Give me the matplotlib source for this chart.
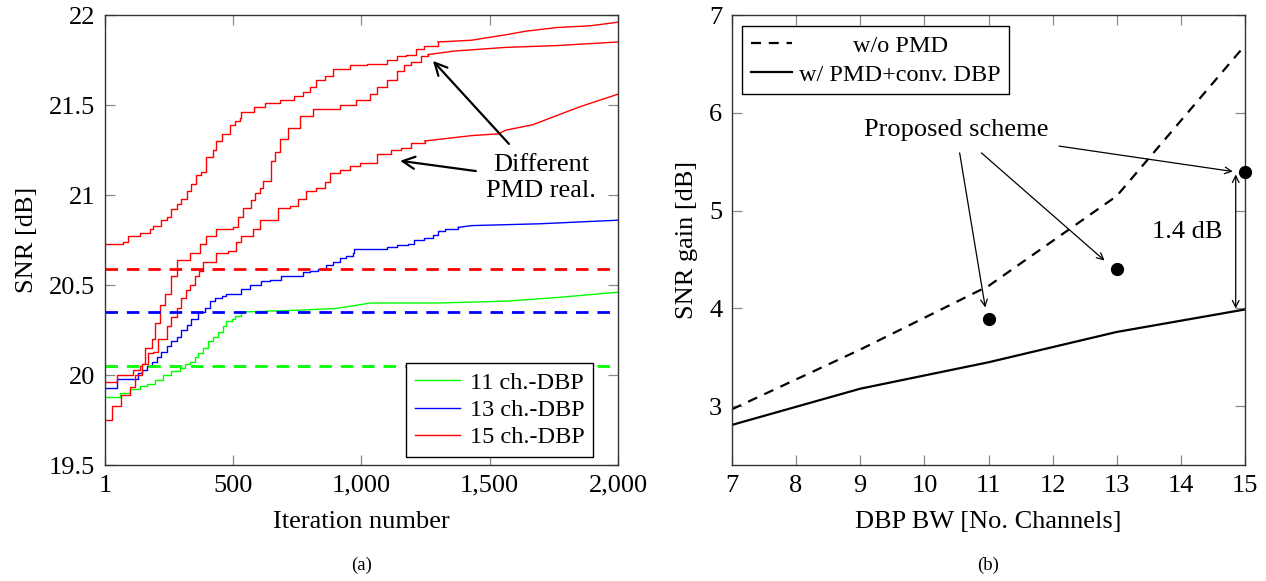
import numpy as np
import matplotlib
matplotlib.use('Agg')
import matplotlib.pyplot as plt

plt.rcParams['font.family'] = ['Liberation Serif', 'DejaVu Serif']

# ---- (a) SNR vs iteration ----
r1_it = [1, 72, 92, 137, 176, 189, 221, 241, 260, 280, 299, 319, 338, 357, 377, 396, 422, 435, 455, 487,
         507, 526, 532, 580, 623, 682, 739, 771, 798, 824, 857, 890, 956, 1022, 1101, 1140, 1173, 1213, 1245,
         1298, 1430, 1562, 1641, 1759, 1891, 2000]
r1_snr = [20.73, 20.74, 20.77, 20.79, 20.81, 20.83, 20.86, 20.88, 20.92, 20.95, 20.98, 21.02, 21.06, 21.11,
          21.13, 21.21, 21.25, 21.30, 21.34, 21.39, 21.41, 21.43, 21.46, 21.49, 21.51, 21.53, 21.55, 21.57,
          21.60, 21.64, 21.66, 21.70, 21.72, 21.73, 21.75, 21.77, 21.78, 21.81, 21.83, 21.85, 21.86, 21.89,
          21.91, 21.93, 21.94, 21.96]

r2_it = [1, 27, 62, 98, 118, 144, 157, 183, 195, 215, 234, 260, 282, 331, 370, 396, 435, 500, 520, 539, 571,
         584, 604, 617, 649, 662, 682, 714, 759, 811, 915, 980, 1035, 1061, 1101, 1140, 1166, 1193, 1232, 1259,
         1364, 1562, 1759, 2000]
r2_snr = [19.75, 19.83, 19.89, 19.935, 20.0, 20.06, 20.15, 20.20, 20.29, 20.39, 20.45, 20.55, 20.64, 20.68,
          20.73, 20.77, 20.81, 20.82, 20.88, 20.93, 20.97, 21.01, 21.04, 21.08, 21.19, 21.24, 21.31, 21.37,
          21.44, 21.48, 21.50, 21.53, 21.56, 21.60, 21.64, 21.69, 21.72, 21.74, 21.77, 21.78, 21.80, 21.82,
          21.83, 21.85]

r3_it = [1, 46, 111, 137, 144, 170, 189, 208, 241, 260, 280, 299, 316, 331, 351, 368, 383, 435, 481, 513,
         532, 578, 604, 675, 720, 753, 785, 824, 857, 876, 915, 954, 993, 1061, 1114, 1153, 1193, 1246, 1430,
         1535, 1562, 1667, 1759, 1851, 1957, 2000]
r3_snr = [19.96, 20.0, 20.03, 20.05, 20.06, 20.12, 20.13, 20.20, 20.27, 20.32, 20.37, 20.43, 20.47, 20.50,
          20.55, 20.58, 20.63, 20.68, 20.69, 20.74, 20.77, 20.81, 20.86, 20.93, 20.94, 20.98, 21.02, 21.04,
          21.07, 21.12, 21.14, 21.16, 21.18, 21.23, 21.25, 21.26, 21.29, 21.30, 21.33, 21.34, 21.36, 21.39,
          21.44, 21.49, 21.54, 21.56]

b_it = [1, 46, 131, 144, 163, 183, 202, 221, 241, 260, 280, 299, 319, 338, 364, 390, 409, 429, 455, 474,
        532, 565, 610, 643, 688, 772, 798, 831, 863, 889, 915, 941, 967, 973, 1101, 1140, 1180, 1206, 1245,
        1278, 1298, 1325, 1377, 1430, 1693, 2000]
b_snr = [19.93, 19.98, 20.01, 20.03, 20.05, 20.07, 20.10, 20.13, 20.16, 20.19, 20.21, 20.25, 20.28, 20.31,
         20.35, 20.37, 20.41, 20.43, 20.44, 20.45, 20.48, 20.50, 20.52, 20.53, 20.55, 20.57, 20.58, 20.59,
         20.61, 20.63, 20.65, 20.66, 20.68, 20.70, 20.71, 20.72, 20.73, 20.75, 20.76, 20.78, 20.80, 20.81,
         20.82, 20.83, 20.84, 20.86]

g_it = [1, 59, 98, 137, 163, 195, 228, 260, 293, 312, 331, 351, 364, 383, 403, 422, 442, 461, 474, 494, 507,
        532, 759, 903, 993, 1035, 1298, 1562, 1759, 2000]
g_snr = [19.88, 19.90, 19.92, 19.94, 19.95, 19.97, 20.0, 20.02, 20.04, 20.06, 20.07, 20.10, 20.12, 20.15,
         20.19, 20.21, 20.24, 20.27, 20.30, 20.31, 20.33, 20.35, 20.36, 20.37, 20.39, 20.40, 20.40, 20.41,
         20.43, 20.46]

ref_red = 20.59
ref_blue = 20.35
ref_green = 20.05

# ---- (b) SNR gain vs DBP bandwidth ----
bw = [7, 9, 11, 13, 15]
gain_nopmd = [2.97, 3.58, 4.23, 5.15, 6.69]
gain_pmd = [2.81, 3.18, 3.45, 3.76, 3.99]
prop_bw = [11, 13, 15]
prop_gain = [3.89, 4.40, 5.40]

FS = 19
W, H = 1266, 581
fig = plt.figure(figsize=(W / 100, H / 100), dpi=100)
ax1 = fig.add_axes([105 / W, 1 - 465 / H, 513 / W, 450 / H])
ax2 = fig.add_axes([732 / W, 1 - 465 / H, 513 / W, 450 / H])

for ax in (ax1, ax2):
    ax.tick_params(direction='in', top=True, right=True, length=7, width=0.9, color='#888888',
                   labelsize=FS, pad=7)
    for s in ax.spines.values():
        s.set_linewidth(1.0)
        s.set_color('#333333')


def staircase(ax, it, snr, tail, **kw):
    # staircase up to `tail`, the fine-stepped rest drawn straight
    k = it.index(tail)
    ax.plot(it[:k + 1], snr[:k + 1], drawstyle='steps-post', **kw)
    kw.pop('label', None)
    ax.plot(it[k:], snr[k:], **kw)


# (a)
lw = 1.0
staircase(ax1, g_it, g_snr, 532, color='#00ff00', lw=lw, label='11 ch.-DBP')
staircase(ax1, b_it, b_snr, 1377, color='#0000ff', lw=lw, label='13 ch.-DBP')
staircase(ax1, r1_it, r1_snr, 1298, color='#ff0000', lw=lw, label='15 ch.-DBP')
staircase(ax1, r2_it, r2_snr, 1259, color='#ff0000', lw=lw)
staircase(ax1, r3_it, r3_snr, 1246, color='#ff0000', lw=lw)
for v, c in ((ref_red, '#ff0000'), (ref_blue, '#0000ff'), (ref_green, '#00ff00')):
    ax1.axhline(v, color=c, lw=2.0, dashes=(4.5, 3.2))

ax1.set_xlim(1, 2000)
ax1.set_ylim(19.5, 22)
ax1.set_xticks([1, 500, 1000, 1500, 2000])
ax1.set_xticklabels(['1', '500', '1,000', '1,500', '2,000'])
ax1.set_yticks([19.5, 20, 20.5, 21, 21.5, 22])
ax1.set_yticklabels(['19.5', '20', '20.5', '21', '21.5', '22'])
ax1.set_xlabel('Iteration number', fontsize=FS, labelpad=10)
ax1.set_ylabel('SNR [dB]', fontsize=FS, labelpad=8)

leg1 = ax1.legend(loc='lower right', bbox_to_anchor=(0.951, 0.018), borderaxespad=0, fontsize=17.5,
                  fancybox=False, framealpha=1, edgecolor='black', handlelength=1.85, handletextpad=0.4,
                  labelspacing=0.22, borderpad=0.35)
leg1.get_frame().set_linewidth(1.0)

ax1.text(1700, 21.095, 'Different\nPMD real.', ha='center', va='center', fontsize=FS, linespacing=1.2)
aprops = dict(arrowstyle='->', lw=1.6, color='black', shrinkA=0, shrinkB=0, mutation_scale=22)
ax1.annotate('', xy=(1279, 21.745), xytext=(1575, 21.284), arrowprops=aprops)
ax1.annotate('', xy=(1151, 21.19), xytext=(1446, 21.133), arrowprops=aprops)

# (b)
ax2.plot(bw, gain_nopmd, color='black', lw=1.6, dashes=(4.5, 3.5), label='w/o PMD')
ax2.plot(bw, gain_pmd, color='black', lw=1.6, label='w/ PMD+conv. DBP')
ax2.plot(prop_bw, prop_gain, 'o', color='black', ms=8.5, clip_on=False, zorder=5)
ax2.set_xlim(7, 15)
ax2.set_ylim(2.4, 7)
ax2.set_xticks(range(7, 16))
ax2.set_yticks([3, 4, 5, 6, 7])
ax2.set_xlabel('DBP BW [No. Channels]', fontsize=FS, labelpad=10)
ax2.set_ylabel('SNR gain [dB]', fontsize=FS, labelpad=8)

leg2 = ax2.legend(loc='upper left', bbox_to_anchor=(0.0195, 0.9756), borderaxespad=0, fontsize=17.5,
                  fancybox=False, framealpha=1, edgecolor='black', handlelength=1.7, handletextpad=0.3,
                  labelspacing=0.3, borderpad=0.35)
leg2.get_frame().set_linewidth(1.0)
leg2.get_texts()[0].set_x(54)

thin = dict(arrowstyle='->', lw=0.9, color='black', shrinkA=0, shrinkB=0, mutation_scale=12)
ax2.text(10.49, 5.82, 'Proposed scheme', ha='center', va='center', fontsize=FS)
ax2.annotate('', xy=(10.95, 4.01), xytext=(10.55, 5.59), arrowprops=thin)
ax2.annotate('', xy=(12.81, 4.49), xytext=(10.89, 5.59), arrowprops=thin)
ax2.annotate('', xy=(14.81, 5.40), xytext=(12.10, 5.66), arrowprops=thin)
ax2.annotate('', xy=(14.855, 4.0), xytext=(14.855, 5.37),
             arrowprops=dict(arrowstyle='<->', lw=0.9, color='black', shrinkA=0, shrinkB=0, mutation_scale=12))
ax2.text(14.1, 4.78, '1.4 dB', ha='center', va='center', fontsize=FS)

fig.text(362 / W, 1 - 565 / H, '(a)', ha='center', va='center', fontsize=13.5)
fig.text(988 / W, 1 - 565 / H, '(b)', ha='center', va='center', fontsize=13.5)

fig.savefig('out.png', dpi=100)
